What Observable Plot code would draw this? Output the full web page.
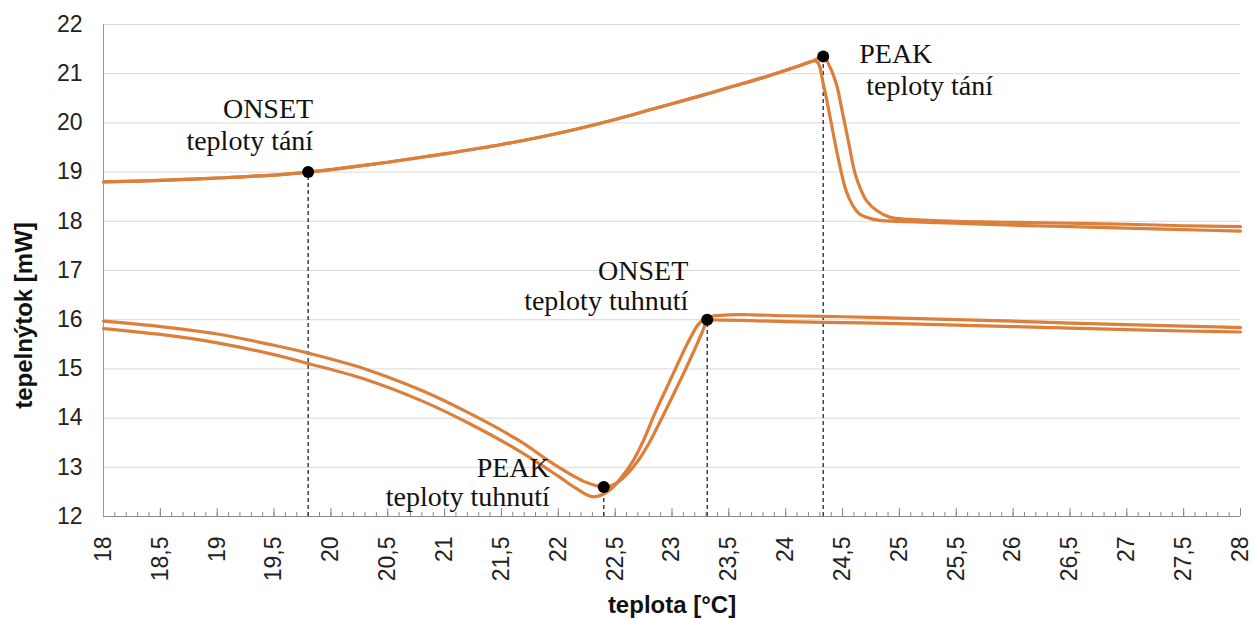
<!DOCTYPE html>
<html>
<head>
<meta charset="utf-8">
<script src="https://cdn.jsdelivr.net/npm/d3@7"></script>
<script src="https://cdn.jsdelivr.net/npm/@observablehq/plot@0.6"></script>
<style>
  html, body { margin: 0; padding: 0; background: #fff; }
  #chart { width: 1254px; height: 618px; }
</style>
</head>
<body>
<div id="chart"></div>
<script>
// ---- data ----
const meltAX = [18, 18.5, 19, 19.5, 19.8, 20, 20.5, 21, 21.5, 22, 22.5, 23, 23.25, 23.5, 23.8, 24, 24.12, 24.27, 24.33, 24.39, 24.46, 24.53, 24.59, 24.65, 24.74, 24.83, 25, 25.5, 26, 26.5, 27, 27.5, 28];
const meltAY = [18.80, 18.83, 18.88, 18.94, 19.0, 19.05, 19.2, 19.37, 19.56, 19.79, 20.07, 20.39, 20.55, 20.72, 20.92, 21.07, 21.16, 21.25, 20.8, 20.12, 19.30, 18.63, 18.32, 18.15, 18.06, 18.02, 18.0, 17.96, 17.92, 17.89, 17.86, 17.83, 17.80];

const meltBX = [18, 18.5, 19, 19.5, 19.8, 20, 20.5, 21, 21.5, 22, 22.5, 23, 23.25, 23.5, 23.8, 24, 24.12, 24.25, 24.33, 24.39, 24.45, 24.49, 24.55, 24.61, 24.66, 24.71, 24.8, 24.92, 25.09, 25.5, 26, 26.5, 27, 27.5, 28];
const meltBY = [18.80, 18.83, 18.88, 18.94, 19.0, 19.05, 19.2, 19.37, 19.56, 19.79, 20.07, 20.39, 20.55, 20.72, 20.92, 21.07, 21.16, 21.27, 21.35, 21.13, 20.75, 20.32, 19.64, 18.97, 18.65, 18.42, 18.22, 18.08, 18.04, 18.0, 17.98, 17.96, 17.94, 17.91, 17.89];

const coolCX = [18, 18.5, 19, 19.5, 19.8, 20.3, 20.8, 21.2, 21.65, 21.95, 22.25, 22.41, 22.5, 22.6, 22.7, 22.8, 22.9, 23.0, 23.1, 23.2, 23.27, 23.31, 23.45, 23.7, 24, 24.5, 25, 25.5, 26, 26.5, 27, 27.5, 28];
const coolCY = [15.97, 15.86, 15.71, 15.48, 15.32, 15.0, 14.56, 14.12, 13.55, 13.08, 12.69, 12.6, 12.66, 12.85, 13.13, 13.5, 13.95, 14.42, 14.9, 15.4, 15.77, 15.97, 15.99, 15.98, 15.96, 15.94, 15.92, 15.89, 15.86, 15.83, 15.8, 15.77, 15.75];

const coolDX = [18, 18.5, 19, 19.5, 19.8, 20.3, 20.8, 21.2, 21.65, 22.0, 22.15, 22.31, 22.45, 22.55, 22.65, 22.75, 22.85, 22.95, 23.05, 23.15, 23.23, 23.3, 23.38, 23.5, 23.7, 24, 24.5, 25, 25.5, 26, 26.5, 27, 27.5, 28];
const coolDY = [15.82, 15.70, 15.53, 15.29, 15.11, 14.79, 14.35, 13.91, 13.34, 12.82, 12.58, 12.40, 12.53, 12.78, 13.1, 13.55, 14.1, 14.6, 15.1, 15.58, 15.9, 16.04, 16.08, 16.1, 16.1, 16.08, 16.06, 16.03, 16.0, 15.97, 15.93, 15.9, 15.87, 15.84];

// marked points: ONSET tání, PEAK tání, ONSET tuhnutí, PEAK tuhnutí
const markerX = [19.8, 24.33, 23.31, 22.4];
const markerY = [19.0, 21.35, 16.0, 12.6];

const xTicks = d3.range(0, 21).map(i => 18 + i * 0.5);
const xMinor = d3.range(0, 101).map(i => 18 + i / 10);
const yTicks = [12, 13, 14, 15, 16, 17, 18, 19, 20, 21, 22];

const xTitle = "teplota [°C]";
const yTitle = "tepelnýtok [mW]";

// ---- build ----
const toRows = (xs, ys, s) => xs.map((x, i) => ({x, y: ys[i], s}));
const curves = [
  ...toRows(meltAX, meltAY, "tání A"),
  ...toRows(meltBX, meltBY, "tání B"),
  ...toRows(coolCX, coolCY, "tuhnutí C"),
  ...toRows(coolDX, coolDY, "tuhnutí D")
];
const markers = markerX.map((x, i) => ({x, y: markerY[i]}));
const [onsetMelt, peakMelt, onsetCool, peakCool] = markers;

const comma = d => String(d).replace(".", ",");
const orange = "#dc7f3b";
const serif = "'Liberation Serif', 'Times New Roman', serif";
const annot = (pt, text, anchor, dx, dy) =>
  Plot.text([pt], {x: "x", y: "y", text: () => text, textAnchor: anchor, lineAnchor: "bottom",
    dx, dy, fontFamily: serif, fontSize: 28, fill: "#111"});

const chart = Plot.plot({
  width: 1254,
  height: 618,
  marginLeft: 103,
  marginRight: 14,
  marginTop: 24,
  marginBottom: 102,
  style: {fontFamily: "'Liberation Sans', Arial, sans-serif", background: "#fff", color: "#222"},
  x: {domain: [18, 28]},
  y: {domain: [12, 22]},
  marks: [
    Plot.gridY(yTicks, {stroke: "#d9d9d9", strokeOpacity: 1, strokeWidth: 1}),
    Plot.axisY(yTicks, {tickSize: 0, tickPadding: 21, fontSize: 23, label: null}),
    Plot.axisX(xMinor, {tickSize: -4, tickFormat: () => "", label: null, stroke: "#888"}),
    Plot.axisX(xTicks, {tickSize: -8, tickFormat: () => "", label: null, stroke: "#888"}),
    Plot.axisX(xTicks, {tickSize: 0, tickPadding: 20, tickRotate: -90, tickFormat: comma, fontSize: 23, label: null}),
    Plot.ruleY([12], {stroke: "#888"}),
    Plot.ruleX([18], {stroke: "#999"}),
    Plot.ruleX(markers, {x: "x", y1: 12, y2: "y", stroke: "#333", strokeWidth: 1.4, strokeDasharray: "4,3"}),
    Plot.line(curves, {x: "x", y: "y", z: "s", stroke: orange, strokeWidth: 3.2, curve: "catmull-rom"}),
    Plot.dot(markers, {x: "x", y: "y", r: 6, fill: "#000", stroke: "none"}),
    annot(onsetMelt, "ONSET", "end", 5, -54),
    annot(onsetMelt, "teploty tání", "end", 5, -22),
    annot(peakMelt, "PEAK", "start", 36, 7),
    annot(peakMelt, "teploty tání", "start", 43, 39),
    annot(onsetCool, "ONSET", "end", -19, -40),
    annot(onsetCool, "teploty tuhnutí", "end", -19, -10),
    annot(peakCool, "PEAK", "end", -54, -10),
    annot(peakCool, "teploty tuhnutí", "end", -54, 19),
    Plot.text([xTitle], {frameAnchor: "bottom", text: d => d, dy: 96, lineAnchor: "bottom", fontWeight: "bold", fontSize: 24, fill: "#111"}),
    Plot.text([yTitle], {frameAnchor: "left", text: d => d, dx: -79, dy: 45, rotate: -90, textAnchor: "middle", lineAnchor: "middle", fontWeight: "bold", fontSize: 24, fill: "#111"})
  ]
});
document.getElementById("chart").appendChild(chart);
</script>
</body>
</html>
